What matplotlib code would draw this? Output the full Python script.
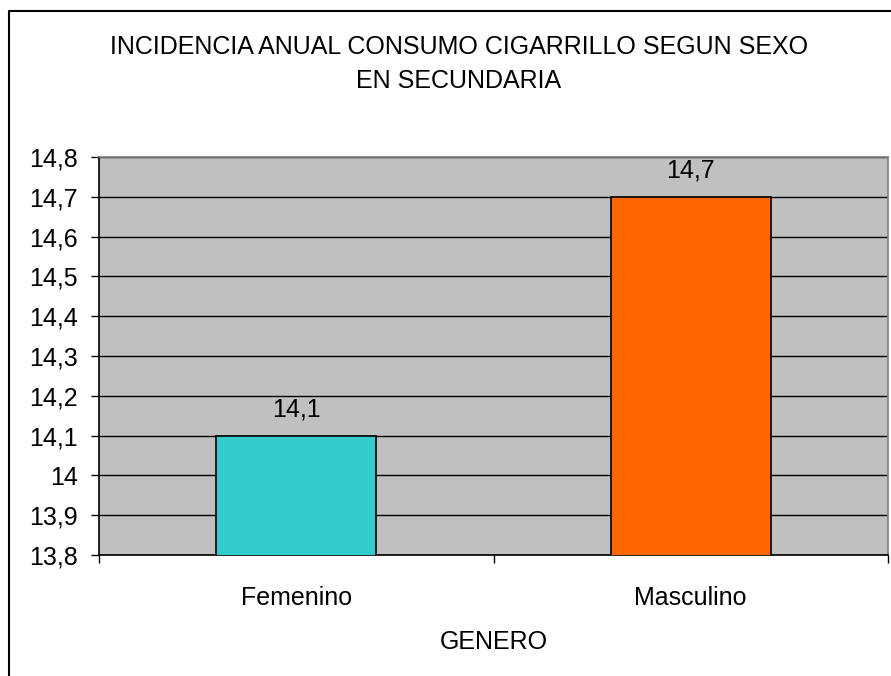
import matplotlib.pyplot as plt
from matplotlib.lines import Line2D

# Data
categories = ['Femenino', 'Masculino']
values = [14.1, 14.7]
colors = ['#33CCCC', '#FF6600']
y_ticks = [13.8, 13.9, 14.0, 14.1, 14.2, 14.3, 14.4, 14.5, 14.6, 14.7, 14.8]
title = 'INCIDENCIA ANUAL CONSUMO CIGARRILLO SEGUN SEXO\nEN SECUNDARIA'
x_title = 'GENERO'

plt.rcParams['font.family'] = ['Liberation Sans', 'DejaVu Sans']

W, H = 891, 676
fig = plt.figure(figsize=(W / 100, H / 100), dpi=100)
fig.patch.set_facecolor('white')

# plot area in pixels
left, right, top, bottom = 99, 888, 157, 555
ax = fig.add_axes([left / W, (H - bottom) / H, (right - left) / W, (bottom - top) / H])
ax.set_facecolor('#C0C0C0')

x = list(range(len(categories)))
ax.set_axisbelow(True)
ax.yaxis.grid(True, color='black', linewidth=1)
ax.bar(x, values, width=0.405, color=colors, edgecolor='black', linewidth=1.2,
       zorder=3)

def fmt(v):
    s = f'{v:.1f}'.replace('.', ',')
    return s[:-2] if s.endswith(',0') else s

for xi, v in zip(x, values):
    ax.annotate(fmt(v), (xi, v), xytext=(0, 14), textcoords='offset pixels',
                ha='center', va='bottom', fontsize=18, zorder=4)

ax.set_xlim(-0.5, len(categories) - 0.5)
ax.set_ylim(y_ticks[0], y_ticks[-1])
ax.set_yticks(y_ticks)
ax.set_yticklabels([fmt(t) for t in y_ticks])
ax.set_xticks(x)
ax.set_xticklabels(categories)
ax.set_xticks([-0.5, 0.5, 1.5], minor=True)
ax.tick_params(axis='x', which='major', length=0, pad=22, labelsize=18)
ax.tick_params(axis='x', which='minor', length=6, width=1, color='black')
ax.tick_params(axis='y', length=6, width=1, color='black', pad=9, labelsize=18)

for s in ['left', 'bottom']:
    ax.spines[s].set_color('black')
    ax.spines[s].set_linewidth(1.2)
for s in ['top', 'right']:
    ax.spines[s].set_color('#808080')
    ax.spines[s].set_linewidth(1.2)

ax.set_xlabel(x_title, fontsize=18, labelpad=15)

fig.text(459 / W, 1 - 64 / H, title, ha='center', va='center',
         fontsize=18, linespacing=1.5)

# chart border
fig.add_artist(Line2D([8.5 / W, 8.5 / W, 1], [0, 1 - 10.5 / H, 1 - 10.5 / H],
                      transform=fig.transFigure, color='black', linewidth=1.5))

fig.savefig('out.png', dpi=100, facecolor='white')
